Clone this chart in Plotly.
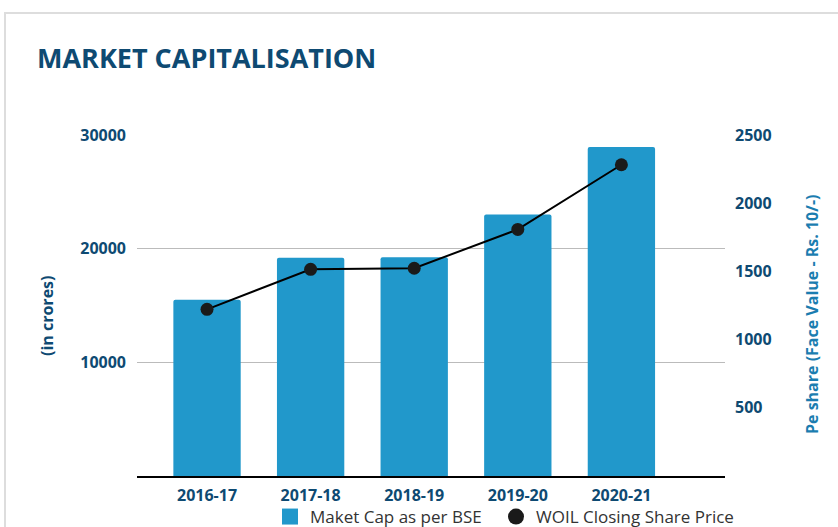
import plotly.graph_objects as go

years = ["2016-17", "2017-18", "2018-19", "2019-20", "2020-21"]
market_cap = [15500, 19200, 19250, 23000, 28950]
share_price = [1222, 1515, 1523, 1808, 2282]
left_ticks = [10000, 20000, 30000]
right_ticks = [500, 1000, 1500, 2000, 2500]

DARK = "#0E4A72"
BLUE = "#2198CB"
FONT = "Open Sans"

fig = go.Figure()
fig.add_trace(go.Bar(
    x=years, y=market_cap, name="Maket Cap as per BSE", showlegend=False,
    marker=dict(color=BLUE, line=dict(width=0)), width=0.65, yaxis="y",
))
fig.add_trace(go.Scatter(
    x=years, y=share_price, name="WOIL Closing Share Price", showlegend=False,
    mode="lines+markers", yaxis="y2",
    line=dict(color="#000000", width=2),
    marker=dict(color="#1a1a1a", size=13),
))
# legend-only entries
fig.add_trace(go.Scatter(
    x=[None], y=[None], name="Maket Cap as per BSE", mode="markers", legend="legend",
    marker=dict(symbol="square", color=BLUE, size=16),
))
fig.add_trace(go.Scatter(
    x=[None], y=[None], name="WOIL Closing Share Price", mode="markers", legend="legend2",
    marker=dict(symbol="circle", color="#1a1a1a", size=16),
))

L, R, T, B = 137, 113, 135, 51
W, H = 838, 527
pw, ph = W - L - R, H - T - B

def px(x):
    return (x - L) / pw

def py(y):
    return (H - B - y) / ph

leg_common = dict(orientation="h", xanchor="left", y=py(517), yanchor="middle",
                  font=dict(family=FONT, size=17, color="#333333"),
                  itemwidth=30, bgcolor="rgba(0,0,0,0)")

fig.update_layout(
    width=W, height=H,
    margin=dict(l=L, r=R, t=T, b=B, autoexpand=False),
    paper_bgcolor="white", plot_bgcolor="white",
    font=dict(family=FONT, color=DARK),
    barcornerradius=2,
    showlegend=True,
    legend=dict(x=px(270), **leg_common),
    legend2=dict(x=px(496), **leg_common),
    xaxis=dict(type="category", range=[-0.676, 5.0], showline=True, linecolor="#000000",
               linewidth=2, showgrid=False, ticks="", ticklabelstandoff=4,
               tickfont=dict(family=FONT, size=16, color=DARK, weight="bold")),
    yaxis=dict(range=[0, 30000], tickvals=left_ticks, tickformat="d", showgrid=True,
               gridcolor="#BBBBBB", gridwidth=1, zeroline=False, showline=False, ticks="",
               ticklabelstandoff=10,
               tickfont=dict(family=FONT, size=16, color=DARK, weight="bold")),
    yaxis2=dict(range=[0, 2500], tickvals=right_ticks, tickformat="d", overlaying="y",
                side="right", showgrid=False, zeroline=False, showline=False, ticks="",
                ticklabelstandoff=9,
                tickfont=dict(family=FONT, size=16, color=DARK, weight="bold")),
    shapes=[dict(type="rect", xref="paper", yref="paper",
                 x0=px(5), x1=px(900), y0=py(600), y1=py(13),
                 line=dict(color="#DDDDDD", width=2), fillcolor="rgba(0,0,0,0)", layer="below")],
    annotations=[
        dict(text="<b>MARKET CAPITALISATION</b>", xref="paper", yref="paper",
             x=px(35), y=py(57), xanchor="left", yanchor="middle", showarrow=False,
             font=dict(family=FONT, size=27, color=DARK)),
        dict(text="<b>(in crores)</b>", xref="paper", yref="paper", textangle=-90,
             x=px(47), y=py(316), xanchor="center", yanchor="middle", showarrow=False,
             font=dict(family=FONT, size=16, color=DARK)),
        dict(text="<b>Pe share (Face Value - Rs. 10/-)</b>", xref="paper", yref="paper",
             textangle=-90, x=px(812), y=py(315), xanchor="center", yanchor="middle",
             showarrow=False, font=dict(family=FONT, size=16, color="#1B7DB0")),
    ],
)

fig.write_html("out.html", config={"displayModeBar": False},
               post_script="document.body.style.margin='0';document.body.style.padding='0';")
